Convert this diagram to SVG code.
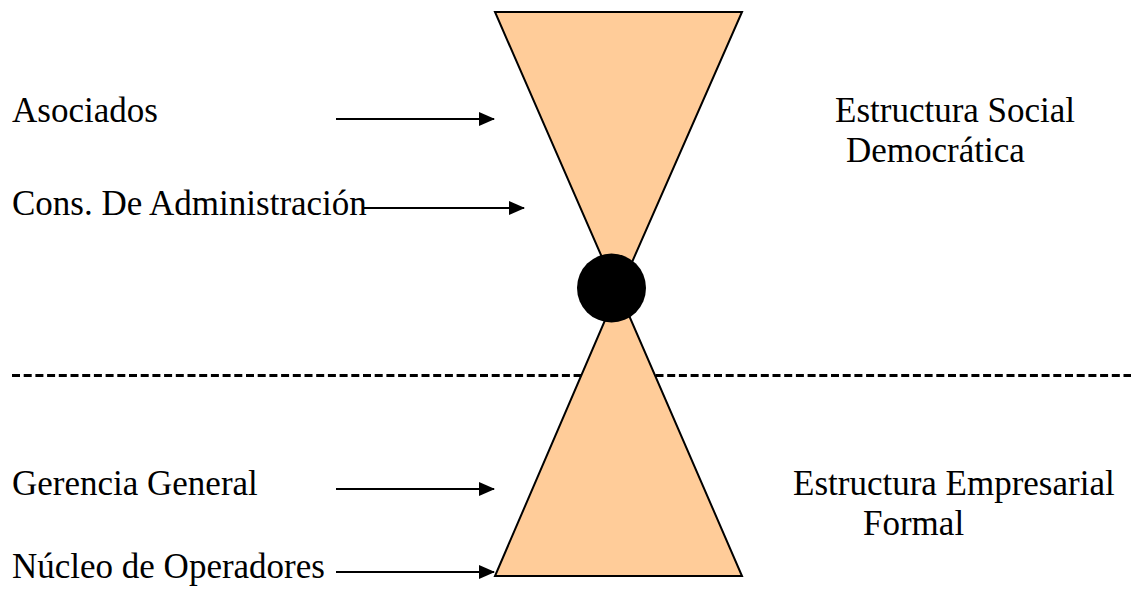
<svg xmlns="http://www.w3.org/2000/svg" width="1131" height="597" viewBox="0 0 1131 597">
<style>
text{font-family:"Liberation Serif","Times New Roman",serif;font-size:35px;fill:#000}
.tri{fill:#FFCC99;stroke:#000;stroke-width:2}
.arr{stroke:#000;stroke-width:2;fill:none;marker-end:url(#ah)}
</style>
<defs>
<marker id="ah" markerWidth="16" markerHeight="14" refX="15" refY="7" orient="auto" markerUnits="userSpaceOnUse">
<path d="M0,0 L16,7 L0,14 Z" fill="#000"/>
</marker>
</defs>
<rect width="1131" height="597" fill="#fff"/>
<line id="divider" x1="12" y1="375.5" x2="1131" y2="375.5" stroke="#000" stroke-width="3" stroke-dasharray="8,3.7"/>
<g id="top-triangle"><polygon class="tri" points="495,12 742,12 618,294"/></g>
<g id="bottom-triangle"><polygon class="tri" points="495,576 742,576 618,290"/></g>
<g id="center-circle"><circle cx="611.5" cy="288" r="34.5" fill="#000"/></g>
<g id="connectors">
<line class="arr" x1="336" y1="119" x2="494" y2="119"/>
<line class="arr" x1="364" y1="208" x2="524" y2="208"/>
<line class="arr" x1="336" y1="489" x2="494" y2="489"/>
<line class="arr" x1="336" y1="572" x2="494" y2="572"/>
</g>
<g id="label-asociados"><text x="12" y="122">Asociados</text></g>
<g id="label-cons"><text x="12" y="215">Cons. De Administración</text></g>
<g id="label-gerencia"><text x="12" y="495">Gerencia General</text></g>
<g id="label-nucleo"><text x="12" y="578">Núcleo de Operadores</text></g>
<g id="label-social"><text x="835" y="122">Estructura Social</text><text x="846" y="162">Democrática</text></g>
<g id="label-empresarial"><text x="793" y="495">Estructura Empresarial</text><text x="863" y="535">Formal</text></g>
</svg>
